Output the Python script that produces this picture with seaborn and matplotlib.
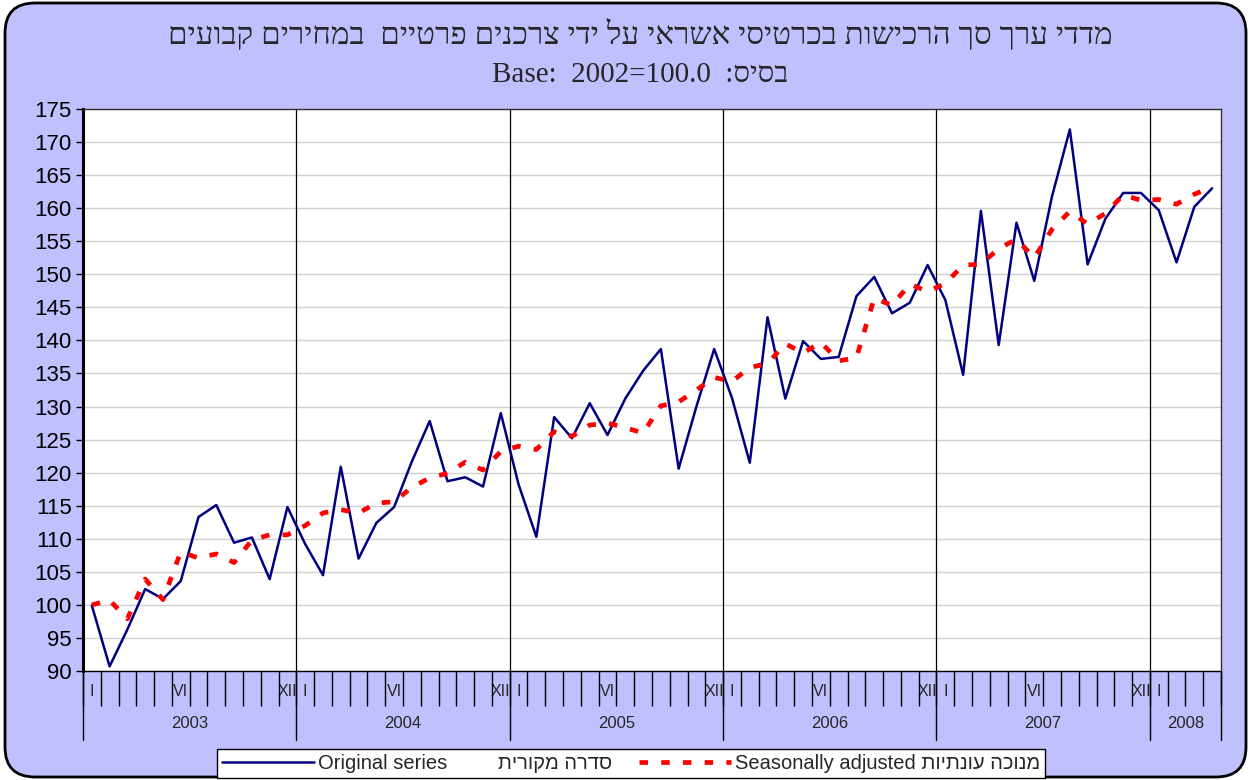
import numpy as np
import pandas as pd
import matplotlib.pyplot as plt
import matplotlib.transforms as mtransforms
import seaborn as sns
from matplotlib.patches import FancyBboxPatch
from matplotlib.lines import Line2D

years = [2003, 2004, 2005, 2006, 2007, 2008]
months_per_year = [12, 12, 12, 12, 12, 4]
roman = {1: "I", 6: "VI", 12: "XII"}

original = [
    99.9, 90.7, 96.3, 102.4, 100.9, 103.6, 113.3, 115.1, 109.4, 110.2, 103.9, 114.8,
    109.2, 104.5, 120.9, 107.0, 112.4, 114.8, 121.7, 127.8, 118.7, 119.3, 117.9, 129.0,
    118.2, 110.3, 128.4, 125.2, 130.5, 125.7, 131.2, 135.4, 138.7, 120.6, 130.0, 138.7,
    131.3, 121.5, 143.5, 131.2, 139.9, 137.2, 137.5, 146.7, 149.6, 144.1, 145.7, 151.4,
    146.1, 134.8, 159.6, 139.3, 157.8, 149.0, 161.8, 171.9, 151.5, 158.4, 162.3, 162.3,
    159.7, 151.8, 160.2, 163.0,
]
seas_adj = [
    100.0, 100.7, 97.9, 103.9, 100.8, 108.0, 107.1, 107.7, 106.4, 109.8, 110.6, 110.6,
    112.0, 113.9, 114.4, 113.9, 115.4, 115.6, 117.8, 119.2, 119.9, 121.6, 120.4, 123.2,
    124.0, 123.5, 126.2, 125.5, 127.2, 127.5, 126.8, 126.0, 130.1, 130.7, 132.5, 134.4,
    133.8, 135.9, 136.5, 139.5, 138.1, 139.7, 136.9, 137.4, 146.4, 145.3, 148.5, 147.4,
    148.6, 151.4, 151.5, 153.9, 155.3, 152.5, 156.8, 159.5, 157.6, 159.2, 162.0, 161.2,
    161.3, 160.6, 162.1, 163.2,
]

title_he = "מדדי ערך סך הרכישות בכרטיסי אשראי על ידי צרכנים פרטיים  במחירים קבועים"
base_he = "בסיס"
base_en = "Base:  2002=100.0  :"
label_orig_en = "Original series"
label_orig_he = "סדרה מקורית"
label_sa_en = "Seasonally adjusted"
label_sa_he = "מנוכה עונתיות"


def vis(s):
    # matplotlib has no bidi support, so put hebrew into visual order
    return s[::-1]


month_num = [m for n in months_per_year for m in range(1, n + 1)]
df = pd.DataFrame({
    "pos": np.arange(len(original)) + 0.5,
    "original": original,
    "sa": seas_adj,
})
bounds = np.concatenate([[0], np.cumsum(months_per_year)])

sns.set_style("white")
plt.rcParams["font.family"] = ["Liberation Sans", "DejaVu Sans"]

fig = plt.figure(figsize=(12.51, 7.8), dpi=100)
fig.patch.set_facecolor("white")
bg = FancyBboxPatch((0.05, 0.03), 12.41, 7.74,
                    boxstyle="round,pad=0,rounding_size=0.3",
                    transform=fig.dpi_scale_trans, facecolor="#C0C0FF",
                    edgecolor="black", lw=2, zorder=-10)
fig.add_artist(bg)

ax = fig.add_axes([0.0663, 0.1397, 0.9097, 0.7206])
ax.set_facecolor("white")

blue = "#000080"
red = "#FF0000"
sa_ls = (0, (1.8, 2.8))
sns.lineplot(data=df, x="pos", y="original", ax=ax, color=blue, lw=1.8, zorder=3)
sns.lineplot(data=df, x="pos", y="sa", ax=ax, color=red, lw=3.4, linestyle=sa_ls, zorder=4)

ax.set_xlim(0, bounds[-1])
ax.set_ylim(90, 175)
ax.set_yticks(range(90, 176, 5))
ax.set_xlabel("")
ax.set_ylabel("")
ax.yaxis.grid(True, color="#D0D0D0", lw=1)
ax.set_axisbelow(True)

for b in bounds[1:-1]:
    ax.axvline(b, color="black", lw=0.9, zorder=2)

for side in ["top", "right", "bottom"]:
    ax.spines[side].set_color("#303030")
    ax.spines[side].set_linewidth(1)
ax.spines["left"].set_color("black")
ax.spines["left"].set_linewidth(2.2)
ax.spines["bottom"].set_color("black")

ax.tick_params(axis="y", left=True, direction="out", length=5, width=1,
               labelsize=16, pad=3, colors="black")

# month ticks: labels in slots, long ticks at boundaries
ax.set_xticks(df["pos"])
ax.set_xticklabels([roman.get(m, "") for m in month_num])
ax.set_xticks(np.arange(0, bounds[-1] + 1), minor=True)
ax.tick_params(axis="x", which="major", bottom=True, length=0, pad=9, labelsize=11.5)
ax.tick_params(axis="x", which="minor", bottom=True, direction="out", length=25, width=1, color="black")

trans = mtransforms.blended_transform_factory(ax.transData, ax.transAxes)
for b in bounds:
    ax.add_line(Line2D([b, b], [0, -0.123], transform=trans, color="black", lw=1, clip_on=False))
for y, a, b in zip(years, bounds[:-1], bounds[1:]):
    ax.text((a + b) / 2, -0.094, str(y), transform=trans, ha="center", va="center", fontsize=12)

serif = ["Liberation Serif", "DejaVu Serif"]
fig.text(0.5116, 0.955, vis(title_he), ha="center", va="center", fontsize=22.5, family=serif)
fig.text(0.512, 0.904, base_en + vis(base_he), ha="center", va="center", fontsize=21, family=serif)

handles = [
    Line2D([], [], color=blue, lw=1.8),
    Line2D([], [], color=red, lw=3.4, linestyle=sa_ls),
]
labels = [
    label_orig_en + "         " + vis(label_orig_he),
    label_sa_en + " " + vis(label_sa_he),
]
leg = fig.legend(handles, labels, loc="lower center", bbox_to_anchor=(0.5044, 0.003),
                 ncol=2, frameon=True, fancybox=False, framealpha=1, fontsize=14.5,
                 handlelength=4.6, columnspacing=1.3, handletextpad=0.2, borderpad=0.25,
                 borderaxespad=0)
leg.get_frame().set_edgecolor("black")
leg.get_frame().set_linewidth(1)
leg.get_frame().set_facecolor("white")

fig.savefig("out.png", dpi=100)
